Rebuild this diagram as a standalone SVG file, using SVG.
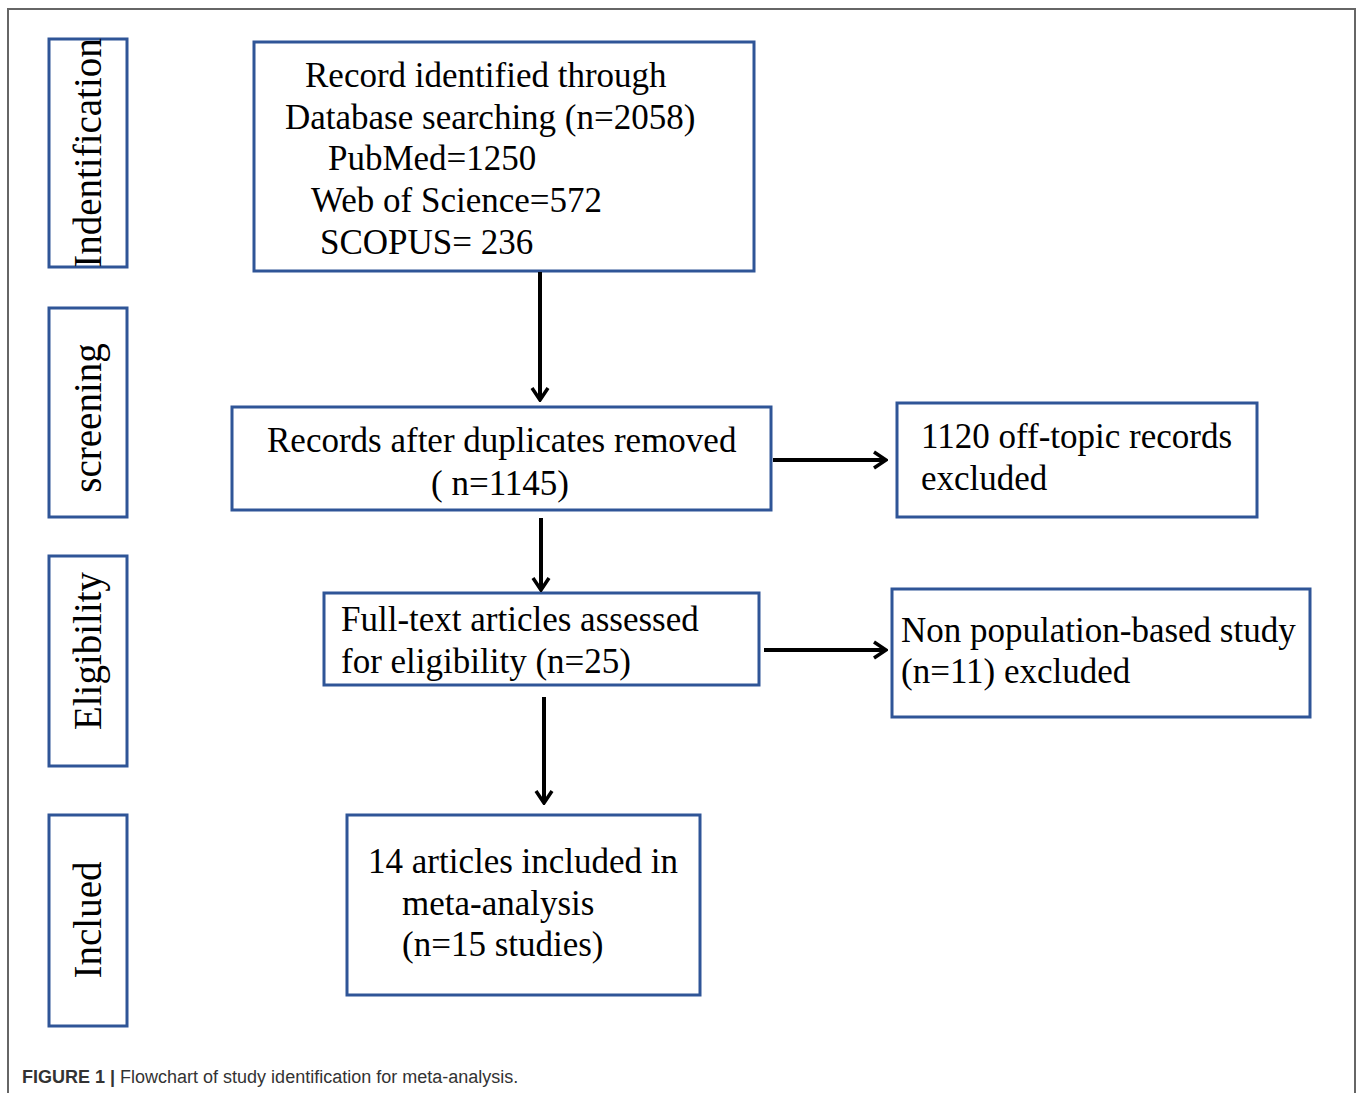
<svg xmlns="http://www.w3.org/2000/svg" width="1358" height="1093" viewBox="0 0 1358 1093">
<style>
.box{fill:#fff;stroke:#2f5597;stroke-width:3}
.t{font-family:"Liberation Serif","Times New Roman",serif;font-size:35px;fill:#000}
.v{font-family:"Liberation Serif","Times New Roman",serif;font-size:39px;fill:#000}
.c{stroke:#000;stroke-width:4;fill:none}
.cap{font-family:"Liberation Sans",Arial,sans-serif;font-size:18px;fill:#333}
</style>
<defs>
<marker id="ah" viewBox="0 0 16 20" refX="14" refY="10" markerWidth="16" markerHeight="20" markerUnits="userSpaceOnUse" orient="auto">
<path d="M2,2 L14,10 L2,18" fill="none" stroke="#000" stroke-width="3.5"/>
</marker>
</defs>
<rect width="1358" height="1093" fill="#fff"/>
<path d="M8,1093 V9 H1355 V1093" fill="none" stroke="#666" stroke-width="2"/>

<g id="stage-identification"><rect class="box" x="49" y="39" width="78" height="228"/><text class="v" transform="translate(101,153) rotate(-90)" text-anchor="middle">Indentification</text></g>
<g id="stage-screening"><rect class="box" x="49" y="308" width="78" height="209"/><text class="v" transform="translate(101,418) rotate(-90)" text-anchor="middle">screening</text></g>
<g id="stage-eligibility"><rect class="box" x="49" y="556" width="78" height="210"/><text class="v" transform="translate(101,651) rotate(-90)" text-anchor="middle">Eligibility</text></g>
<g id="stage-included"><rect class="box" x="49" y="815" width="78" height="211"/><text class="v" transform="translate(101,920) rotate(-90)" text-anchor="middle">Inclued</text></g>

<g id="identified"><rect class="box" x="254" y="42" width="500" height="229"/>
<text class="t" x="305" y="87">Record identified through</text>
<text class="t" x="285" y="129">Database searching (n=2058)</text>
<text class="t" x="328" y="170">PubMed=1250</text>
<text class="t" x="311" y="212">Web of Science=572</text>
<text class="t" x="320" y="254">SCOPUS= 236</text></g>

<g id="duplicates"><rect class="box" x="232" y="407" width="539" height="103"/>
<text class="t" x="267" y="452">Records after duplicates removed</text>
<text class="t" x="431" y="495">( n=1145)</text></g>

<g id="offtopic"><rect class="box" x="897" y="403" width="360" height="114"/>
<text class="t" x="921" y="448">1120 off-topic records</text>
<text class="t" x="921" y="490">excluded</text></g>

<g id="fulltext"><rect class="box" x="324" y="593" width="435" height="92"/>
<text class="t" x="341" y="631">Full-text articles assessed</text>
<text class="t" x="341" y="673">for eligibility (n=25)</text></g>

<g id="nonpop"><rect class="box" x="892" y="589" width="418" height="128"/>
<text class="t" x="901" y="642">Non population-based study</text>
<text class="t" x="901" y="683">(n=11) excluded</text></g>

<g id="included"><rect class="box" x="347" y="815" width="353" height="180"/>
<text class="t" x="368" y="873">14 articles included in</text>
<text class="t" x="402" y="915">meta-analysis</text>
<text class="t" x="402" y="956">(n=15 studies)</text></g>

<g id="connectors">
<path class="c" d="M540,272 V400" marker-end="url(#ah)"/>
<path class="c" d="M541,518 V590" marker-end="url(#ah)"/>
<path class="c" d="M544,697 V803" marker-end="url(#ah)"/>
<path class="c" d="M773,460 H886" marker-end="url(#ah)"/>
<path class="c" d="M764,650 H886" marker-end="url(#ah)"/>
</g>

<text class="cap" x="22" y="1083"><tspan font-weight="bold">FIGURE 1 |</tspan> Flowchart of study identification for meta-analysis.</text>
</svg>
